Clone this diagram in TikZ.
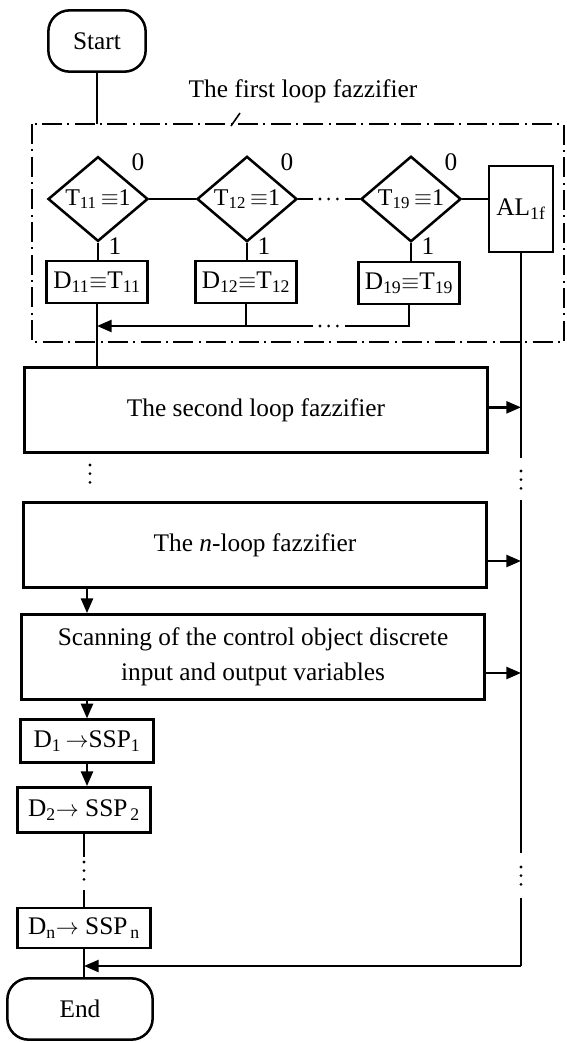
\documentclass[tikz,border=0pt]{standalone}
\usepackage{fontspec}
\setmainfont{Liberation Serif}
\usetikzlibrary{arrows.meta,shapes.geometric}

\begin{document}
\begin{tikzpicture}[x=0.75pt, y=-0.75pt,
    font=\fontsize{19}{26}\selectfont,
    term/.style={draw, line width=1.9pt, rounded corners=16pt, minimum width=73pt, minimum height=46pt},
    cond/.style={draw, diamond, line width=1.9pt, inner sep=0pt, minimum width=75pt, minimum height=63pt,
                 font=\fontsize{18}{22}\selectfont},
    proc/.style={draw, line width=1.9pt, align=center, inner sep=0pt, minimum width=347pt, minimum height=64pt},
    dbox/.style={draw, line width=1.9pt, inner sep=0pt, minimum width=76pt, minimum height=31.5pt},
    ssp/.style={dbox, minimum width=100pt, minimum height=32pt},
    flag/.style={inner sep=0pt},
    arrow/.style={-{Triangle[length=11pt,width=9pt]}, line width=1.8pt},
    wire/.style={line width=1.8pt},
    dotgap/.style={line width=2.3pt, line cap=round, dash pattern=on 0pt off 6.5pt},
    loopbox/.style={line width=1.6pt, dash pattern=on 15pt off 4pt on 1.5pt off 4pt}
  ]
    \useasboundingbox (0,0) rectangle (567,1043);

    \node[term] (start) at (97,41) {Start};
    \node (fz1lbl) at (303,91) {The first loop fazzifier};
    \draw[loopbox] (32,124) rectangle (564,342);
    \coordinate (fztop) at (97,124);
    \coordinate (lblfoot) at (231,126);
    \draw[wire] (start) -- (fztop);
    \draw[line width=1.2pt] (lblfoot) -- ++(9,-13);

    \node[cond] (t11) at (98,199) {T\textsubscript{11}\,$\equiv$1};
    \node[cond] (t12) at (247,199) {T\textsubscript{12}\,$\equiv$1};
    \node[cond] (t19) at (411,199) {T\textsubscript{19}\,$\equiv$1};
    \node[dbox, minimum width=48pt, minimum height=64.5pt] (al) at (521,209) {AL\textsubscript{1f}};

    \node[dbox] (d11) at (97,282) {D\textsubscript{11}$\equiv$T\textsubscript{11}};
    \node[dbox] (d12) at (246,282) {D\textsubscript{12}$\equiv$T\textsubscript{12}};
    \node[dbox] (d19) at (409,283) {D\textsubscript{19}$\equiv$T\textsubscript{19}};

    \foreach \a in {t11, t12, t19} {
      \node[flag] (no-\a) at ([shift={(40,-37)}]\a.center) {0};
      \node[flag] (yes-\a) at ([shift={(17,47)}]\a.center) {1};
    }

    \coordinate (gapL) at (313,199);
    \coordinate (gapR) at (345,199);
    \draw[wire] (t11) -- (t12);
    \draw[wire] (t12) -- (gapL);
    \draw[dotgap] (320,199) -- (338,199);
    \draw[wire] (gapR) -- (t19);
    \draw[wire] (t19.east) -- (t19.east -| al.west);

    \foreach \a/\b in {t11/d11, t12/d12, t19/d19}
      \draw[wire] (\a.south) -- (\a.south |- \b.north);

    \coordinate (retR) at (345,326);
    \coordinate (retL) at (313,326);
    \draw[wire] (d19.south) |- (retR);
    \draw[dotgap] (320,326) -- (338,326);
    \draw[arrow] (retL) -- (d11.south |- retR);
    \draw[wire] (d12.south) -- (d12.south |- retR);

    \node[proc] (second) at (256,410) {The second loop fazzifier};
    \node[proc] (nloop) at (255,545) {The \textit{n}-loop fazzifier};
    \node[proc] (scan) at (253,657) {Scanning of the control object discrete\\input and output variables};

    \draw[wire] (d11.south) -- (d11.south |- second.north);
    \draw[dotgap] (90,465) -- (90,483);

    \node[ssp] (d1) at (87,741) {D\textsubscript{1}\,$\rightarrow$SSP\textsubscript{1}};
    \node[ssp, minimum height=34pt] (d2) at (84,810) {D\textsubscript{2}$\rightarrow$ SSP\textsubscript{\,2}};
    \node[ssp, minimum height=30pt] (dn) at (84,928) {D\textsubscript{n}$\rightarrow$ SSP\textsubscript{\,n}};
    \node[term, minimum width=109pt] (end) at (80,1009) {End};

    \draw[arrow] (d1 |- nloop.south) -- (d1 |- scan.north);
    \draw[arrow] (d1 |- scan.south) -- (d1.north);
    \draw[arrow] (d1.south) -- (d1.south |- d2.north);

    \coordinate (colb) at (84,857);
    \coordinate (colt) at (84,890);
    \draw[wire] (d2.south) -- (colb);
    \draw[dotgap] (84,862) -- (84,880);
    \draw[wire] (colt) -- (dn.north);
    \draw[wire] (dn.south) -- (dn.south |- end.north);

    \coordinate (busx) at (521,0);
    \coordinate (busb1) at (521,458);
    \coordinate (bust2) at (521,500);
    \coordinate (busb2) at (521,853);
    \coordinate (bust3) at (521,898);
    \coordinate (busend) at (521,966);
    \draw[wire] (al.south) -- (busb1);
    \draw[dotgap] (521,471) -- (521,489);
    \draw[wire] (bust2) -- (busb2);
    \draw[dotgap] (521,867) -- (521,885);
    \draw[wire] (bust3) -- (busend);
    \draw[arrow] (busend) -- (dn.south |- busend);

    \foreach \b/\s in {second/2pt, nloop/-12pt, scan/-12pt}
      \draw[arrow] ([yshift=\s]\b.east) -- ([yshift=\s]\b.east -| busx);
  \end{tikzpicture}
\end{document}
